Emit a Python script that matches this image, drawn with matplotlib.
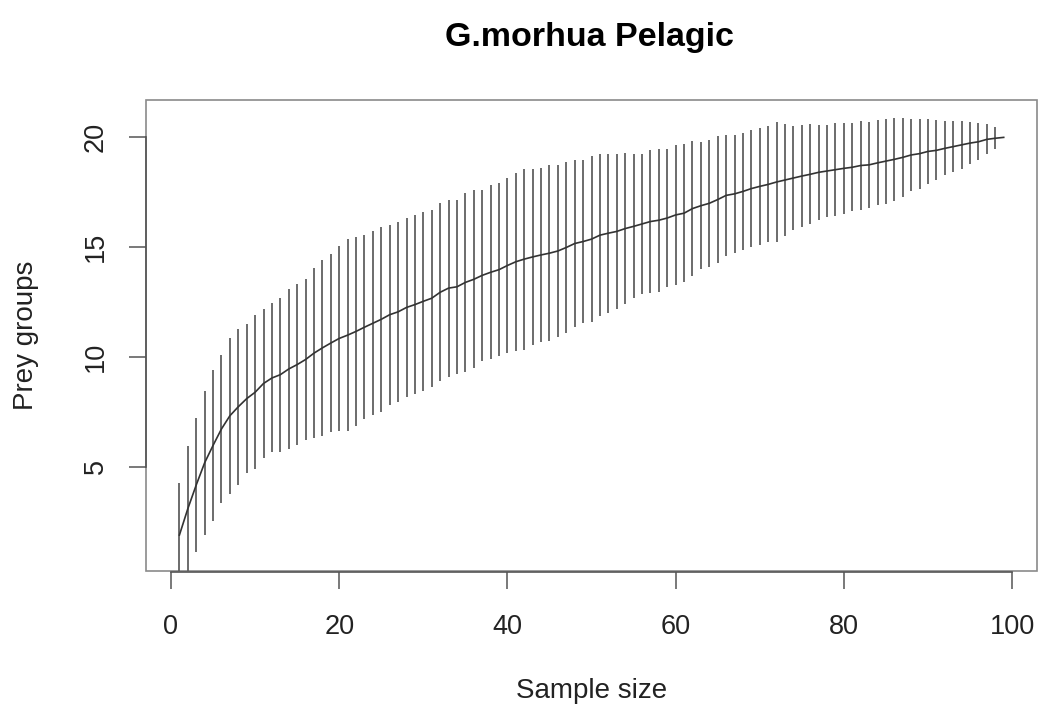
import numpy as np
import matplotlib
matplotlib.use("Agg")
import matplotlib.pyplot as plt
from matplotlib.patches import Rectangle

plt.rcParams['font.family'] = ['Liberation Sans', 'DejaVu Sans']

# species accumulation: sites 1..99, mean richness and CI half width (2 sd)
sites = np.arange(1, 100)
richness = np.array([
    1.90, 3.10, 4.18, 5.19, 5.98, 6.73, 7.33, 7.74, 8.11, 8.40,
    8.80, 9.05, 9.20, 9.46, 9.66, 9.89, 10.18, 10.42, 10.64, 10.85,
    11.00, 11.17, 11.36, 11.54, 11.72, 11.93, 12.06, 12.26, 12.39, 12.54,
    12.68, 12.95, 13.14, 13.20, 13.40, 13.54, 13.72, 13.86, 13.98, 14.17,
    14.34, 14.46, 14.56, 14.65, 14.73, 14.83, 14.99, 15.17, 15.26, 15.37,
    15.55, 15.64, 15.72, 15.85, 15.95, 16.06, 16.17, 16.23, 16.33, 16.47,
    16.55, 16.76, 16.89, 17.00, 17.17, 17.36, 17.43, 17.54, 17.67, 17.77,
    17.86, 17.97, 18.06, 18.15, 18.24, 18.32, 18.41, 18.47, 18.53, 18.59,
    18.64, 18.72, 18.75, 18.84, 18.92, 19.00, 19.09, 19.20, 19.26, 19.36,
    19.41, 19.50, 19.58, 19.66, 19.74, 19.80, 19.91, 19.96, 20.00])
ci = np.array([
    2.36, 2.87, 3.03, 3.28, 3.43, 3.36, 3.55, 3.56, 3.38, 3.51,
    3.38, 3.39, 3.51, 3.62, 3.66, 3.66, 3.88, 4.02, 4.03, 4.20,
    4.36, 4.30, 4.19, 4.19, 4.20, 4.10, 4.09, 4.09, 4.06, 4.07,
    4.03, 4.06, 4.03, 3.97, 4.07, 4.05, 3.90, 3.96, 3.94, 3.98,
    4.05, 4.12, 4.02, 3.95, 4.00, 3.93, 3.89, 3.82, 3.69, 3.77,
    3.68, 3.62, 3.51, 3.44, 3.28, 3.17, 3.24, 3.26, 3.16, 3.20,
    3.13, 3.07, 2.90, 2.89, 2.88, 2.76, 2.69, 2.67, 2.65, 2.65,
    2.64, 2.73, 2.56, 2.35, 2.34, 2.27, 2.15, 2.11, 2.12, 2.06,
    2.01, 2.01, 1.95, 1.93, 1.93, 1.89, 1.80, 1.65, 1.59, 1.49,
    1.36, 1.23, 1.16, 1.08, 0.96, 0.85, 0.68, 0.51, 0.00])

xticks = [0, 20, 40, 60, 80, 100]
yticks = [5, 10, 15, 20]

fig = plt.figure(figsize=(10.4, 7.13), dpi=100)
ax = fig.add_axes([0.1408, 0.1992, 0.8560, 0.6599])

ax.vlines(sites, richness - ci, richness + ci, colors='#606060', linewidth=1.3)
ax.plot(sites, richness, color='#333333', linewidth=1.2)

ax.set_xlim(-2.92, 102.92)
ax.set_ylim(0.267, 21.68)

# plot box
ax.add_patch(Rectangle((0, 0), 1, 1, transform=ax.transAxes, fill=False,
                       edgecolor='#8a8a8a', linewidth=1.2, clip_on=False))
for side in ['top', 'right']:
    ax.spines[side].set_visible(False)
ax.spines['left'].set_bounds(5, 20)
ax.spines['bottom'].set_bounds(0, 100)
ax.spines['bottom'].set_position(('outward', 1))
for side in ['left', 'bottom']:
    ax.spines[side].set_color('#555555')
    ax.spines[side].set_linewidth(1.2)

ax.set_xticks(xticks)
ax.set_yticks(yticks)
ax.tick_params(length=12, width=1.1, color='#555555', labelsize=19.5,
               labelcolor='#222222')
ax.tick_params(axis='x', pad=18)
ax.tick_params(axis='y', pad=15)
for lab in ax.get_yticklabels():
    lab.set_rotation(90)
    lab.set_va('center')

ax.set_xlabel('Sample size', fontsize=20, color='#222222', va='center')
ax.xaxis.set_label_coords(0.5, -0.256)
ax.set_ylabel('Prey groups', fontsize=20, color='#222222', va='center')
ax.yaxis.set_label_coords(-0.135, 0.5)

fig.text(0.567, 0.936, 'G.morhua Pelagic', fontsize=24.5, fontweight='bold',
         ha='center', va='baseline')

fig.savefig('out.png', dpi=100)
